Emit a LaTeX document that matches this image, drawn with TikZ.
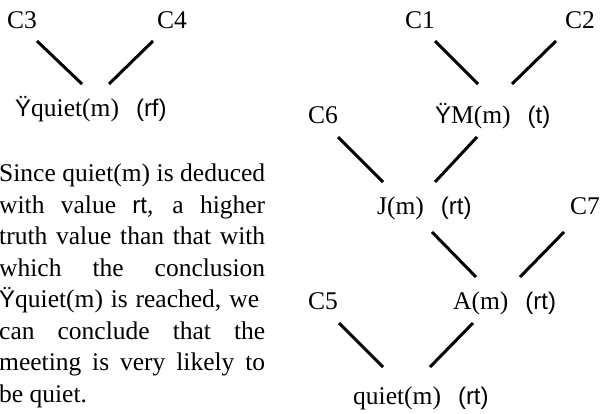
\documentclass[tikz,border=0pt]{standalone}
\usepackage{fontspec}
\setmainfont{Liberation Serif}
\newfontfamily\arialf{Liberation Sans}
\usetikzlibrary{calc}
\newcommand{\sv}[1]{{\fontsize{24}{28}\arialf #1}}
\newcommand{\gapp}{\hspace{17pt}}
\begin{document}
\begin{tikzpicture}[x=1pt,y=-1pt,
  lbl/.style={anchor=base west,inner sep=0pt,font=\fontsize{25.5}{31.5}\selectfont},
  edge/.style={line width=3pt}]
\useasboundingbox (0,0) rectangle (600,414);
% left tree
\node[lbl] (c3) at (7,29) {C3};
\node[lbl] (c4) at (157,29) {C4};
\node[lbl] (nq) at (15,117) {\sv{Ÿ}quiet(m)\gapp\sv{(rf)}};
\draw[edge] ($(c3.base west)+(30,12)$) -- ($(nq.base west)+(67,-33)$);
\draw[edge] ($(c4.base west)+(-4,12)$) -- ($(nq.base west)+(94,-33)$);
% paragraph
\node[anchor=base west,inner sep=0pt] (para) at (-1,182) {\vtop{\fontsize{25.5}{31.5}\selectfont\baselineskip=31.5pt
  \hbox to 266pt{Since quiet(m) is deduced}
  \hbox to 266pt{with value \sv{rt}, a higher}
  \hbox to 266pt{truth value than that with}
  \hbox to 266pt{which the conclusion}
  \hbox to 260pt{\sv{Ÿ}quiet(m)  is reached,  we}
  \hbox to 266pt{can conclude that the}
  \hbox to 266pt{meeting is very likely to}
  \hbox{be quiet.}}};
% right tree
\node[lbl] (c1) at (405,29) {C1};
\node[lbl] (c2) at (565,29) {C2};
\node[lbl] (nm) at (435,124) {\sv{Ÿ}M(m)\gapp\sv{(t)}};
\node[lbl] (c6) at (308,124) {C6};
\node[lbl] (nj) at (377,215) {J(m)\gapp\sv{(rt)}};
\node[lbl] (c7) at (570,215) {C7};
\node[lbl] (na) at (453,309) {A(m)\gapp\sv{(rt)}};
\node[lbl] (c5) at (308,309) {C5};
\node[lbl] (nr) at (353,404) {quiet(m)\gapp\sv{(rt)}};
\draw[edge] ($(c1.base west)+(30,12)$) -- ($(nm.base west)+(43,-40)$);
\draw[edge] ($(c2.base west)+(-9,12)$) -- ($(nm.base west)+(77,-40)$);
\draw[edge] ($(c6.base west)+(30,13)$) -- ($(nj.base west)+(6,-33)$);
\draw[edge] ($(nm.base west)+(42,13)$) -- ($(nj.base west)+(58,-33)$);
\draw[edge] ($(nj.base west)+(55,17)$) -- ($(na.base west)+(23,-32)$);
\draw[edge] ($(c7.base west)+(-6,17)$) -- ($(na.base west)+(67,-32)$);
\draw[edge] ($(c5.base west)+(31,14)$) -- ($(nr.base west)+(30,-37)$);
\draw[edge] ($(na.base west)+(20,14)$) -- ($(nr.base west)+(77,-37)$);
\end{tikzpicture}
\end{document}
